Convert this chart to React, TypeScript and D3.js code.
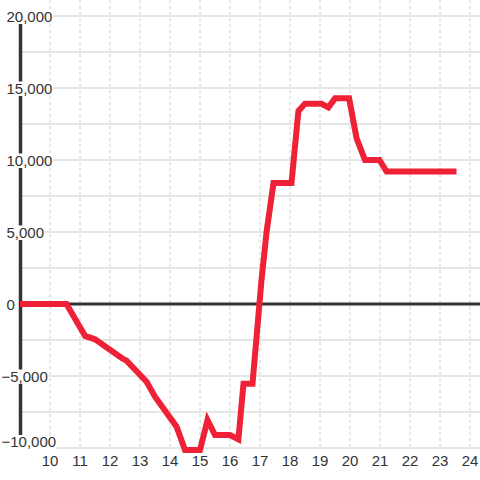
import React from "react";
import * as d3 from "d3";

const hours = [9, 10.55, 11.17, 11.5, 12.4, 12.55, 13.22, 13.5, 14.22, 14.5, 15, 15.25, 15.5, 16, 16.28, 16.45, 16.75, 17.05, 17.22, 17.45, 18.05, 18.28, 18.5, 19.05, 19.28, 19.5, 19.97, 20.22, 20.5, 20.98, 21.22, 23.55];
const values = [0, 0, -2220, -2450, -3770, -3940, -5400, -6440, -8520, -10140, -10140, -8060, -9100, -9100, -9400, -5540, -5540, 1670, 5020, 8400, 8400, 13400, 13900, 13900, 13650, 14280, 14280, 11500, 10000, 10000, 9200, 9200];
const xTicks = [10, 11, 12, 13, 14, 15, 16, 17, 18, 19, 20, 21, 22, 23, 24];
const yLabelTicks = [20000, 15000, 10000, 5000, 0, -5000, -10000];
const yGridTicks = [20000, 17500, 15000, 12500, 10000, 7500, 5000, 2500, -2500, -5000, -7500, -10000];

const W = 480;
const H = 480;
const FONT = "'Liberation Sans', Arial, sans-serif";

export default function App() {
  const x = d3.scaleLinear().domain([9, 24.3333]).range([20, 480]);
  const y = d3.scaleLinear().domain([-10000, 20000]).range([448, 16]);
  const fmt = d3.format(",");
  const data = hours.map((h, i) => [h, values[i]] as [number, number]);
  const line = d3
    .line<[number, number]>()
    .x((d) => x(d[0]))
    .y((d) => y(d[1]));

  const labelW = (s: string) => {
    let w = 0;
    for (const c of s) w += c === "," ? 4.2 : c === "-" ? 5 : 8.34;
    return w;
  };

  return (
    <svg
      width={W}
      height={H}
      style={{ position: "absolute", left: 0, top: 0, background: "#fff" }}
      fontFamily={FONT}
    >
      <rect x={0} y={0} width={W} height={H} fill="#fff" />
      {yGridTicks.map((t) => (
        <line key={"g" + t} x1={20} x2={480} y1={y(t)} y2={y(t)} stroke="#cccccc" strokeWidth={1} />
      ))}
      {xTicks.map((t) => (
        <line
          key={"v" + t}
          x1={x(t)}
          x2={x(t)}
          y1={0}
          y2={448}
          stroke="#cccccc"
          strokeWidth={1}
          strokeDasharray="3,3"
        />
      ))}
      <line x1={20} x2={480} y1={y(0)} y2={y(0)} stroke="#333" strokeWidth={3} />
      <line x1={20.5} x2={20.5} y1={16} y2={448} stroke="#333" strokeWidth={3.5} />
      {yLabelTicks.map((t) => {
        const s = fmt(t);
        const base = Math.min(y(t) + 5.5, 447);
        const w = labelW(s);
        const x0 = t < 0 ? 6.5 - 5 : 6.5;
        return (
          <g key={"yl" + t}>
            <rect x={x0 - 1} y={base - 12} width={w + 2} height={14.5} fill="#fff" />
            <text x={x0} y={base} textAnchor="start" fontSize={15} fill="#333">
              {s}
            </text>
          </g>
        );
      })}
      {xTicks.map((t) => (
        <text key={"xl" + t} x={x(t)} y={466} textAnchor="middle" fontSize={15} fill="#333">
          {t}
        </text>
      ))}
      <path d={line(data) || ""} fill="none" stroke="#ee2136" strokeWidth={6} strokeLinejoin="miter" />
    </svg>
  );
}
